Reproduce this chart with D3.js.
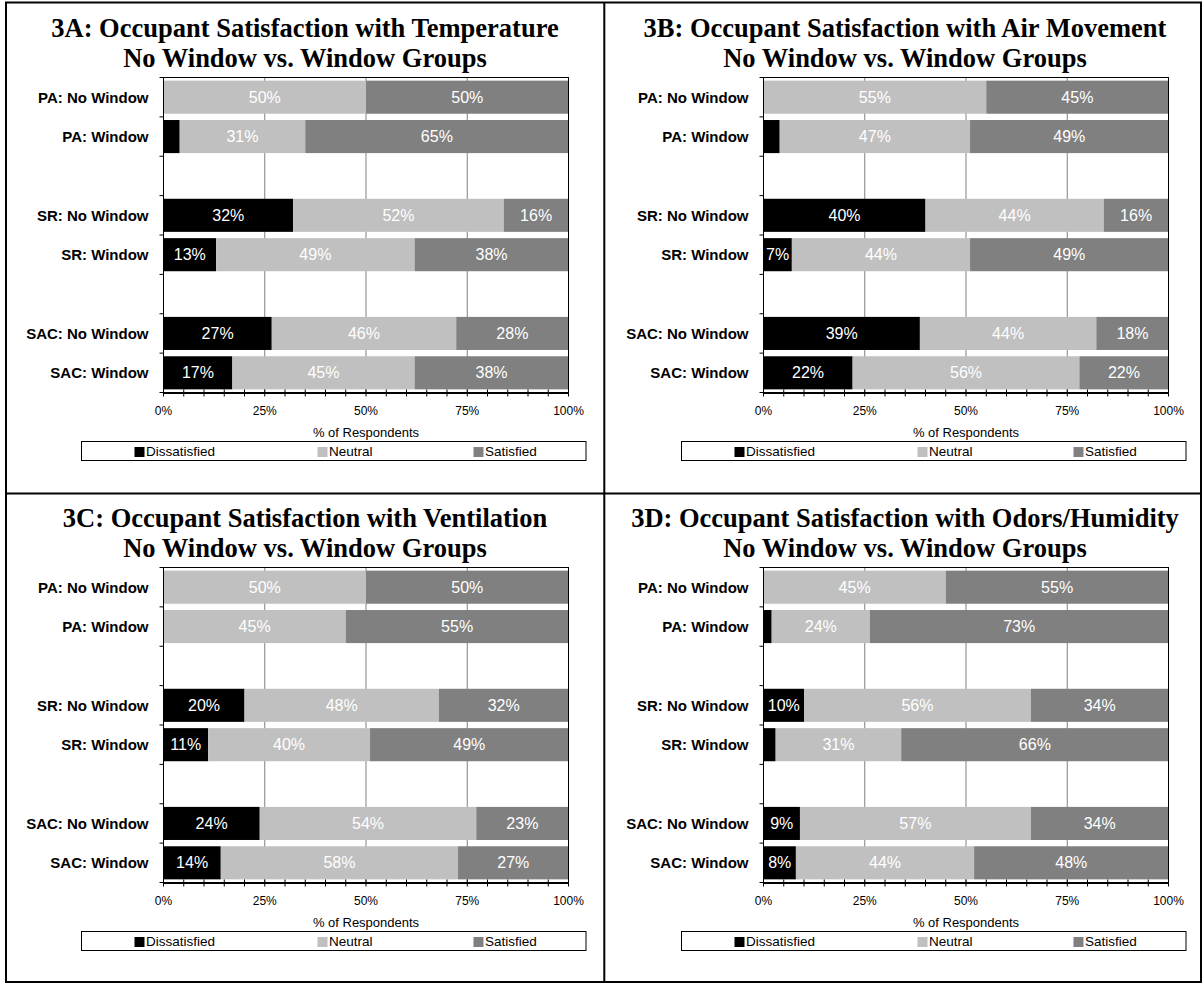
<!DOCTYPE html>
<html>
<head>
<meta charset="utf-8">
<script src="https://cdn.jsdelivr.net/npm/d3@7"></script>
<style>
  html, body { margin: 0; padding: 0; background: #ffffff; }
  svg { display: block; }
</style>
</head>
<body>
<svg id="chart" width="1204" height="984"></svg>
<script>
// Respondent groups (top to bottom) and the response categories
const groups = ["PA: No Window", "PA: Window", "SR: No Window", "SR: Window", "SAC: No Window", "SAC: Window"];
const seriesNames = ["Dissatisfied", "Neutral", "Satisfied"];
const seriesColors = ["#000000", "#C0C0C0", "#808080"];
const xTickValues = [0, 0.25, 0.5, 0.75, 1];
const xTickLabels = ["0%", "25%", "50%", "75%", "100%"];

// 3A: temperature (% of respondents)
const temperatureDissatisfied = [0, 4, 32, 13, 27, 17];
const temperatureNeutral      = [50, 31, 52, 49, 46, 45];
const temperatureSatisfied    = [50, 65, 16, 38, 28, 38];

// 3B: air movement
const airDissatisfied = [0, 4, 40, 7, 39, 22];
const airNeutral      = [55, 47, 44, 44, 44, 56];
const airSatisfied    = [45, 49, 16, 49, 18, 22];

// 3C: ventilation
const ventilationDissatisfied = [0, 0, 20, 11, 24, 14];
const ventilationNeutral      = [50, 45, 48, 40, 54, 58];
const ventilationSatisfied    = [50, 55, 32, 49, 23, 27];

// 3D: odors / humidity
const odorDissatisfied = [0, 2, 10, 3, 9, 8];
const odorNeutral      = [45, 24, 56, 31, 57, 44];
const odorSatisfied    = [55, 73, 34, 66, 34, 48];

const panelTitles = [
  ["3A: Occupant Satisfaction with Temperature", "No Window vs. Window Groups"],
  ["3B: Occupant Satisfaction with Air Movement", "No Window vs. Window Groups"],
  ["3C: Occupant Satisfaction with Ventilation", "No Window vs. Window Groups"],
  ["3D: Occupant Satisfaction with Odors/Humidity", "No Window vs. Window Groups"]
];

const panels = [
  { titles: panelTitles[0], series: [temperatureDissatisfied, temperatureNeutral, temperatureSatisfied], dx: 0,   dy: 0 },
  { titles: panelTitles[1], series: [airDissatisfied, airNeutral, airSatisfied],                         dx: 600, dy: 0 },
  { titles: panelTitles[2], series: [ventilationDissatisfied, ventilationNeutral, ventilationSatisfied], dx: 0,   dy: 490 },
  { titles: panelTitles[3], series: [odorDissatisfied, odorNeutral, odorSatisfied],                      dx: 600, dy: 490 }
];

// Row slots: the three site pairs are separated by empty rows
const slots = [groups[0], groups[1], "gap-1", groups[2], groups[3], "gap-2", groups[4], groups[5]];

const SANS = "'Liberation Sans', Arial, Helvetica, sans-serif";
const SERIF = "'Liberation Serif', 'Times New Roman', Times, serif";

const svg = d3.select("#chart");
svg.append("rect").attr("width", 1204).attr("height", 984).attr("fill", "#ffffff");

// Plot geometry within one panel
const plot = { left: 163.5, right: 568.5, top: 77.5, bottom: 392.5 };

const x = d3.scaleLinear().domain([0, 1]).range([plot.left, plot.right]);
const y = d3.scaleBand().domain(slots).range([plot.top, plot.bottom]).paddingInner(0.16).paddingOuter(0.08);

panels.forEach(p => {
  const g = svg.append("g").attr("transform", `translate(${p.dx},${p.dy})`);

  // Title
  const title = g.append("text")
    .attr("x", 305).attr("text-anchor", "middle")
    .attr("font-family", SERIF).attr("font-weight", "bold").attr("font-size", 26.5)
    .attr("fill", "#000");
  title.append("tspan").attr("x", 305).attr("y", 37).text(p.titles[0]);
  title.append("tspan").attr("x", 305).attr("y", 67).text(p.titles[1]);

  // Gridlines
  g.append("g").selectAll("line")
    .data(xTickValues.filter(v => v > 0 && v < 1))
    .join("line")
    .attr("x1", d => x(d)).attr("x2", d => x(d))
    .attr("y1", plot.top).attr("y2", plot.bottom)
    .attr("stroke", "#808080").attr("stroke-width", 1);

  // Stacked, normalised bars
  const rows = groups.map((grp, i) => {
    const r = { group: grp };
    seriesNames.forEach((s, k) => { r[s] = p.series[k][i]; });
    return r;
  });
  const stacked = d3.stack().keys(seriesNames).offset(d3.stackOffsetExpand)(rows);

  stacked.forEach((layer, k) => {
    const lg = g.append("g");
    lg.selectAll("rect")
      .data(layer)
      .join("rect")
      .attr("x", d => x(d[0]))
      .attr("y", d => y(d.data.group))
      .attr("width", d => Math.max(0, x(d[1]) - x(d[0])))
      .attr("height", y.bandwidth())
      .attr("fill", seriesColors[k]);

    lg.selectAll("text")
      .data(layer.filter(d => d.data[layer.key] >= 5))
      .join("text")
      .attr("x", d => x((d[0] + d[1]) / 2))
      .attr("y", d => y(d.data.group) + y.bandwidth() / 2)
      .attr("text-anchor", "middle")
      .attr("dominant-baseline", "central")
      .attr("font-family", SANS).attr("font-size", 16)
      .attr("fill", "#ffffff")
      .text(d => d.data[layer.key] + "%");
  });

  // Plot border
  g.append("rect")
    .attr("x", plot.left).attr("y", plot.top)
    .attr("width", plot.right - plot.left).attr("height", plot.bottom - plot.top)
    .attr("fill", "none").attr("stroke", "#000").attr("stroke-width", 1);

  // Category axis ticks at slot boundaries
  const boundaries = d3.range(slots.length + 1).map(k => plot.top + k * y.step());
  g.append("g").selectAll("line")
    .data(boundaries)
    .join("line")
    .attr("x1", plot.left - 4).attr("x2", plot.left)
    .attr("y1", d => d).attr("y2", d => d)
    .attr("stroke", "#000").attr("stroke-width", 1);

  // Category labels
  g.append("g").selectAll("text")
    .data(groups)
    .join("text")
    .attr("x", 148.5)
    .attr("y", d => y(d) + y.bandwidth() / 2)
    .attr("text-anchor", "end")
    .attr("dominant-baseline", "central")
    .attr("font-family", SANS).attr("font-weight", "bold").attr("font-size", 15)
    .attr("fill", "#000")
    .text(d => d);

  // Value axis: line, crossing ticks every 5%, labels at quarters
  g.append("line")
    .attr("x1", plot.left).attr("x2", plot.right)
    .attr("y1", plot.bottom + 0.5).attr("y2", plot.bottom + 0.5)
    .attr("stroke", "#000").attr("stroke-width", 2);
  g.append("g").selectAll("line")
    .data(x.ticks(20))
    .join("line")
    .attr("x1", d => x(d)).attr("x2", d => x(d))
    .attr("y1", plot.bottom - 3).attr("y2", plot.bottom + 4)
    .attr("stroke", "#000").attr("stroke-width", 1);
  g.append("g").selectAll("text")
    .data(xTickValues)
    .join("text")
    .attr("x", d => x(d))
    .attr("y", 411)
    .attr("text-anchor", "middle")
    .attr("dominant-baseline", "central")
    .attr("font-family", SANS).attr("font-size", 12)
    .attr("fill", "#000")
    .text((d, i) => xTickLabels[i]);

  g.append("text")
    .attr("x", (plot.left + plot.right) / 2).attr("y", 432.5)
    .attr("text-anchor", "middle").attr("dominant-baseline", "central")
    .attr("font-family", SANS).attr("font-size", 13)
    .attr("fill", "#000")
    .text("% of Respondents");

  // Legend
  const lg = g.append("g");
  lg.append("rect")
    .attr("x", 81.5).attr("y", 441.5).attr("width", 504.5).attr("height", 19)
    .attr("fill", "#fff").attr("stroke", "#000").attr("stroke-width", 1);
  const legendX = [134.5, 317.5, 473.5];
  seriesNames.forEach((s, k) => {
    lg.append("rect")
      .attr("x", legendX[k]).attr("y", 447).attr("width", 10).attr("height", 10)
      .attr("fill", seriesColors[k]);
    lg.append("text")
      .attr("x", legendX[k] + 11.5).attr("y", 451.5)
      .attr("dominant-baseline", "central")
      .attr("font-family", SANS).attr("font-size", 13.5)
      .attr("fill", "#000")
      .text(s);
  });
});

// Outer frame and panel dividers
const frame = svg.append("g").attr("stroke", "#000").attr("stroke-width", 2).attr("fill", "none");
frame.append("rect").attr("x", 6).attr("y", 2.5).attr("width", 1195).attr("height", 979.5);
frame.append("line").attr("x1", 604.3).attr("x2", 604.3).attr("y1", 2.5).attr("y2", 982);
frame.append("line").attr("x1", 6).attr("x2", 1201).attr("y1", 493.6).attr("y2", 493.6);
</script>
</body>
</html>
